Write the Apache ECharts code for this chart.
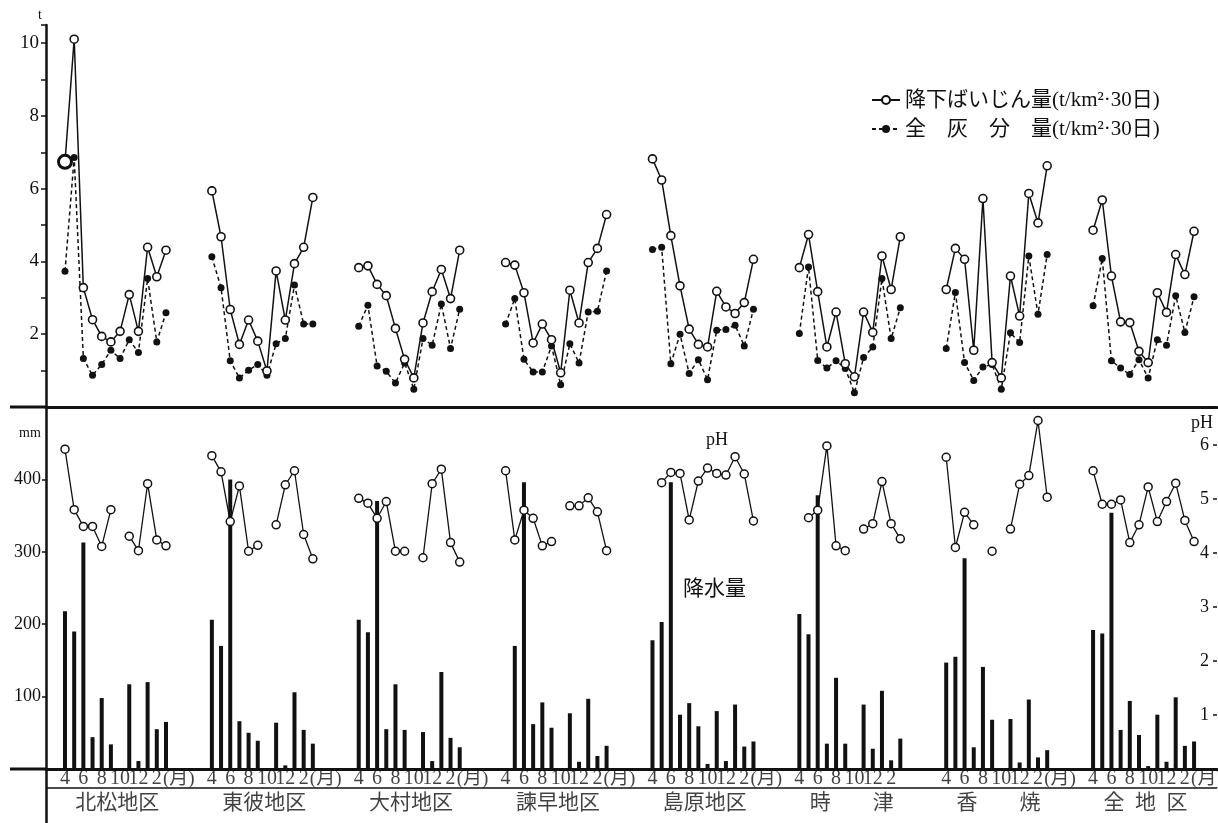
<!DOCTYPE html>
<html>
<head>
<meta charset="utf-8">
<script src="https://cdn.jsdelivr.net/npm/echarts@6/dist/echarts.min.js"></script>
<style>
  html, body { margin: 0; padding: 0; background: #fff; }
  #chart { width: 1218px; height: 823px; }
</style>
</head>
<body>
<div id="chart"></div>
<script>
// Observation districts (left to right)
const regions = ['北松地区', '東彼地区', '大村地区', '諫早地区', '島原地区', '時　　津', '香　　焼', '全\u2002地\u2002区'];
// Month tick labels under each district (April .. March, every second month)
const monthTicks = ['4', '6', '8', '10', '12', '2'];
const monthUnit = '(月)';
const unitShown = [true, true, true, true, true, false, true, true];

// 降下ばいじん量 (t/km²·30日), Apr..Mar per district
const dustfall = [
  [6.74, 10.11, 3.28, 2.40, 1.94, 1.79, 2.08, 3.09, 2.08, 4.39, 3.58, 4.31],
  [5.94, 4.68, 2.68, 1.72, 2.39, 1.81, 0.99, 3.74, 2.39, 3.94, 4.39, 5.76],
  [3.83, 3.88, 3.37, 3.06, 2.16, 1.31, 0.80, 2.31, 3.17, 3.78, 2.98, 4.31],
  [3.97, 3.90, 3.14, 1.76, 2.28, 1.85, 0.94, 3.21, 2.31, 3.97, 4.36, 5.29],
  [6.82, 6.24, 4.71, 3.33, 2.14, 1.72, 1.65, 3.18, 2.75, 2.57, 2.87, 4.06],
  [3.83, 4.74, 3.17, 1.65, 2.61, 1.19, 0.83, 2.61, 2.05, 4.15, 3.23, 4.68],
  [3.23, 4.36, 4.06, 1.56, 5.73, 1.22, 0.80, 3.60, 2.50, 5.87, 5.06, 6.63],
  [4.86, 5.69, 3.60, 2.34, 2.32, 1.53, 1.22, 3.14, 2.60, 4.19, 3.64, 4.83]
];

// 全灰分量 (t/km²·30日)
const ashContent = [
  [3.73, 6.86, 1.33, 0.87, 1.17, 1.56, 1.33, 1.85, 1.50, 3.53, 1.79, 2.59],
  [4.13, 3.28, 1.27, 0.80, 1.01, 1.17, 0.87, 1.74, 1.88, 3.35, 2.28, 2.28],
  [2.22, 2.80, 1.13, 0.98, 0.66, 1.21, 0.49, 1.88, 1.70, 2.83, 1.61, 2.69],
  [2.28, 2.98, 1.31, 0.96, 0.96, 1.68, 0.61, 1.74, 1.21, 2.61, 2.63, 3.74],
  [4.33, 4.39, 1.19, 2.00, 0.92, 1.30, 0.75, 2.11, 2.13, 2.25, 1.68, 2.69],
  [2.02, 3.85, 1.28, 1.07, 1.27, 1.06, 0.39, 1.36, 1.65, 3.53, 1.88, 2.73],
  [1.61, 3.15, 1.22, 0.73, 1.10, 1.17, 0.49, 2.04, 1.77, 4.15, 2.55, 4.19],
  [2.78, 4.08, 1.27, 1.07, 0.89, 1.30, 0.80, 1.85, 1.70, 3.06, 2.05, 3.03]
];

// 降水量 (mm); null = no observation
const rainfall = [
  [218, 190, 313, 44, 98, 34, null, 117, 11, 120, 55, 65],
  [206, 170, 400, 66, 50, 39, null, 64, 5, 106, 54, 35],
  [206, 189, 370, 55, 117, 54, null, 51, 11, 134, 43, 30],
  [null, 170, 396, 62, 92, 57, null, 77, 10, 97, 18, 32],
  [178, 203, 396, 75, 91, 59, 7, 80, 11, 89, 31, 38],
  [214, 186, 378, 35, 126, 35, null, 89, 28, 108, 12, 42],
  [147, 155, 291, 30, 141, 68, null, 69, 9, 96, 16, 26],
  [192, 187, 354, 54, 94, 47, 4, 75, 10, 99, 32, 38]
];

// 雨水の pH
const rainPH = [
  [5.92, 4.80, 4.49, 4.49, 4.12, 4.80, null, 4.31, 4.04, 5.28, 4.24, 4.13],
  [5.80, 5.50, 4.58, 5.24, 4.03, 4.14, null, 4.52, 5.26, 5.52, 4.34, 3.89],
  [5.01, 4.92, 4.64, 4.95, 4.03, 4.03, null, 3.91, 5.28, 5.55, 4.19, 3.83],
  [5.52, 4.24, 4.79, 4.64, 4.13, 4.21, null, 4.87, 4.87, 5.02, 4.76, 4.04],
  [null, 5.30, 5.49, 5.47, 4.61, 5.33, 5.57, 5.47, 5.44, 5.78, 5.46, 4.59],
  [null, 4.65, 4.79, 5.98, 4.13, 4.04, null, 4.44, 4.54, 5.32, 4.54, 4.26],
  [5.77, 4.10, 4.75, 4.52, null, 4.03, null, 4.44, 5.27, 5.43, 6.45, 5.03],
  [5.52, 4.90, 4.90, 4.98, 4.19, 4.52, 5.22, 4.58, 4.95, 5.29, 4.60, 4.21]
];

const dustName = '降下ばいじん量(t/km²·30日)';
const ashName = '全　灰　分　量(t/km²·30日)';

// ---- layout helpers -------------------------------------------------------
const SLOTS = 16;          // 12 months + spacing between districts
const MONTHS = 12;
const slot = (r, m) => r * SLOTS + m;
const X_MIN = -2.07, X_MAX = 125.5;
const INK = '#111';
const SERIF = '"Liberation Serif", "Noto Sans CJK JP", serif';

function lineData(table) {
  const out = [];
  table.forEach((row, r) => {
    for (let m = 0; m < SLOTS; m++) {
      const v = m < MONTHS ? row[m] : null;
      out.push([slot(r, m), v == null ? '-' : v]);
    }
  });
  return out;
}
function barData(table) {
  const out = [];
  table.forEach((row, r) => row.forEach((v, m) => { if (v != null) out.push([slot(r, m), v]); }));
  return out;
}

const dustData = lineData(dustfall);
// the first reading of 北松地区 is drawn as a double ring
dustData[0] = { value: dustData[0], symbolSize: 13, itemStyle: { borderWidth: 3 } };

const axisLabelData = [];
regions.forEach((name, r) => {
  monthTicks.forEach((t, i) => axisLabelData.push({ value: [slot(r, i * 2), 0.55], label: { formatter: t, fontSize: 20 } }));
  if (unitShown[r]) axisLabelData.push({ value: [slot(r, 12.4), 0.55], label: { formatter: monthUnit, fontSize: 19 } });
  axisLabelData.push({ value: [slot(r, 5.7), 1.94], label: { formatter: name, fontSize: 21 } });
});

const hiddenX = (gridIndex, line) => ({
  type: 'value', gridIndex, min: X_MIN, max: X_MAX,
  axisLine: { show: line, onZero: false, lineStyle: { color: INK, width: 3 } },
  axisTick: { show: false }, axisLabel: { show: false }, splitLine: { show: false }
});

const option = {
  animation: false,
  backgroundColor: '#fff',
  grid: [
    { left: 46, right: 1, top: 25, height: 382 },
    { left: 46, right: 1, top: 407, height: 362 },
    { left: 46, right: 1, top: 769, height: 54 }
  ],
  legend: {
    data: [dustName, ashName],
    orient: 'vertical', left: 866, top: 84, itemGap: 7,
    itemWidth: 28, itemHeight: 10, selectedMode: false,
    textStyle: { fontSize: 21, fontFamily: SERIF, color: INK, lineHeight: 22 }
  },
  xAxis: [hiddenX(0, true), hiddenX(1, true), hiddenX(2, false)],
  yAxis: [
    {
      type: 'value', gridIndex: 0, min: 0, max: 10.5, interval: 1,
      axisLine: { show: true, onZero: false, lineStyle: { color: INK, width: 2.5 } },
      axisTick: { show: true, length: 5, lineStyle: { color: INK, width: 1.5 } },
      axisLabel: {
        color: INK, fontSize: 19, fontFamily: SERIF, margin: 7,
        formatter: v => (v > 0 && v <= 10 && v % 2 === 0) ? String(v) : ''
      },
      splitLine: { show: false }
    },
    {
      type: 'value', gridIndex: 1, min: 0, max: 500, interval: 100,
      axisLine: { show: true, onZero: false, lineStyle: { color: INK, width: 2.5 } },
      axisTick: { show: true, length: 4, lineStyle: { color: INK, width: 1.5 } },
      axisLabel: {
        color: INK, fontSize: 18, fontFamily: SERIF, margin: 5,
        formatter: v => (v > 0 && v < 500) ? String(v) : ''
      },
      splitLine: { show: false }
    },
    {
      type: 'value', gridIndex: 1, position: 'right', min: 0, max: 6.7, interval: 1,
      axisLine: { show: false, onZero: false },
      axisTick: { show: true, inside: true, length: 4, lineStyle: { color: INK, width: 1.5 } },
      axisLabel: {
        inside: true, color: INK, fontSize: 18, fontFamily: SERIF, margin: 8,
        formatter: v => (v > 0 && v <= 6 && Number.isInteger(v)) ? String(v) : ''
      },
      splitLine: { show: false }
    },
    {
      type: 'value', gridIndex: 2, min: 0, max: 3, inverse: true,
      axisLine: { show: true, onZero: false, lineStyle: { color: INK, width: 2.5 } },
      axisTick: { show: false }, axisLabel: { show: false }, splitLine: { show: false }
    }
  ],
  series: [
    {
      name: dustName, type: 'line', xAxisIndex: 0, yAxisIndex: 0,
      data: dustData, connectNulls: false,
      symbol: 'circle', symbolSize: 8, showSymbol: true,
      lineStyle: { color: INK, width: 1.5 },
      itemStyle: { color: '#fff', borderColor: INK, borderWidth: 1.6 },
      z: 4
    },
    {
      name: ashName, type: 'line', xAxisIndex: 0, yAxisIndex: 0,
      data: lineData(ashContent), connectNulls: false,
      symbol: 'circle', symbolSize: 7,
      lineStyle: { color: INK, width: 1.5, type: [4, 3] },
      itemStyle: { color: INK, borderColor: INK, borderWidth: 0 },
      z: 3
    },
    {
      name: '降水量', type: 'bar', xAxisIndex: 1, yAxisIndex: 1,
      data: barData(rainfall), barWidth: 4,
      itemStyle: { color: INK }, z: 2
    },
    {
      name: 'pH', type: 'line', xAxisIndex: 1, yAxisIndex: 2,
      data: lineData(rainPH), connectNulls: false,
      symbol: 'circle', symbolSize: 8,
      lineStyle: { color: INK, width: 1.3 },
      itemStyle: { color: '#fff', borderColor: INK, borderWidth: 1.5 },
      z: 4
    },
    {
      name: 'axis-text', type: 'scatter', xAxisIndex: 2, yAxisIndex: 3,
      data: axisLabelData, symbolSize: 1, silent: true,
      itemStyle: { color: 'rgba(0,0,0,0)' },
      label: { show: true, position: 'inside', color: INK, fontFamily: SERIF },
      markLine: {
        silent: true, symbol: ['none', 'none'],
        label: { show: false },
        lineStyle: { color: INK, width: 1.6, type: 'solid' },
        data: [{ yAxis: 1.06 }]
      }
    }
  ],
  graphic: [
    { type: 'line', shape: { x1: 10, y1: 407, x2: 47, y2: 407 }, style: { stroke: INK, lineWidth: 3 } },
    { type: 'line', shape: { x1: 10, y1: 769, x2: 47, y2: 769 }, style: { stroke: INK, lineWidth: 3 } },
    { type: 'text', left: 38, top: 8, style: { text: 't', fontSize: 14, fontFamily: SERIF, fill: INK } },
    { type: 'text', left: 19, top: 426, style: { text: 'mm', fontSize: 14, fontFamily: SERIF, fill: INK } },
    { type: 'text', left: 706, top: 431, style: { text: 'pH', fontSize: 18, fontFamily: SERIF, fill: INK } },
    { type: 'text', left: 683, top: 579, style: { text: '降水量', fontSize: 21, fontFamily: SERIF, fill: INK } },
    { type: 'text', left: 1191, top: 414, style: { text: 'pH', fontSize: 18, fontFamily: SERIF, fill: INK } }
  ]
};

const chart = echarts.init(document.getElementById('chart'), null, { renderer: 'canvas' });
chart.setOption(option);
</script>
</body>
</html>
